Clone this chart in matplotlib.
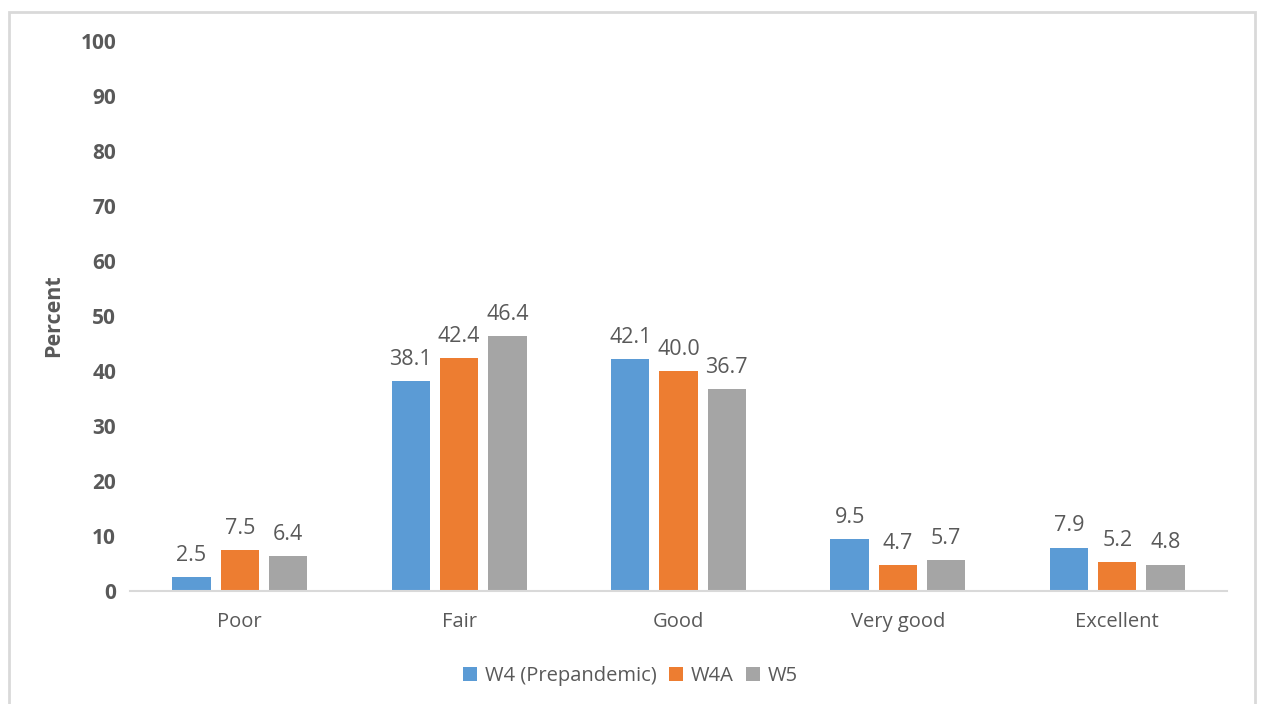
import numpy as np
import matplotlib.pyplot as plt
from matplotlib.patches import Rectangle

categories = ['Poor', 'Fair', 'Good', 'Very good', 'Excellent']
series_names = ['W4 (Prepandemic)', 'W4A', 'W5']
w4 = [2.5, 38.1, 42.1, 9.5, 7.9]
w4a = [7.5, 42.4, 40.0, 4.7, 5.2]
w5 = [6.4, 46.4, 36.7, 5.7, 4.8]
colors = ['#5b9bd5', '#ed7d31', '#a5a5a5']

plt.rcParams['font.family'] = ['Open Sans', 'DejaVu Sans']
text_col = '#595959'

fig = plt.figure(figsize=(12.61, 7.04), dpi=100)
# light frame around the chart area
fig.patches.append(Rectangle((9 / 1261, -0.05), (1255 - 9) / 1261, 1.05 - 12 / 704,
                             transform=fig.transFigure, fill=False,
                             edgecolor='#d9d9d9', linewidth=2))

ax = fig.add_axes([130 / 1261, 113 / 704, (1227 - 130) / 1261, (591 - 41) / 704])

x = np.arange(len(categories))
width = 0.175
step = 0.22
for i, (vals, name) in enumerate(zip([w4, w4a, w5], series_names)):
    bars = ax.bar(x + (i - 1) * step, vals, width, color=colors[i], label=name)
    ax.bar_label(bars, labels=[f'{v:.1f}' for v in vals], padding=8,
                 fontsize=15.5, color=text_col)

ax.set_xlim(-0.5, len(categories) - 0.5)
ax.set_ylim(0, 100)
ax.set_yticks(range(0, 101, 10))
ax.set_xticks(x)
ax.set_xticklabels(categories, fontsize=14.5, color=text_col)
for lab in ax.get_yticklabels():
    lab.set_fontweight('bold')
    lab.set_fontsize(15)
    lab.set_color(text_col)
ax.tick_params(axis='both', length=0)
ax.tick_params(axis='y', pad=10)
ax.tick_params(axis='x', pad=15)

for s in ['top', 'right', 'left']:
    ax.spines[s].set_visible(False)
ax.spines['bottom'].set_color('#d9d9d9')
ax.spines['bottom'].set_linewidth(1.5)

ax.set_ylabel('Percent', fontsize=15.5, fontweight='bold', color=text_col, labelpad=12)

fig.legend(loc='center', bbox_to_anchor=(0.5, 1 - 676 / 704), ncol=3, frameon=False,
           fontsize=14.5, handlelength=0.7, handleheight=0.7, handletextpad=0.4,
           columnspacing=0.6, labelcolor=text_col)

fig.savefig('out.png', dpi=100, facecolor='white')
